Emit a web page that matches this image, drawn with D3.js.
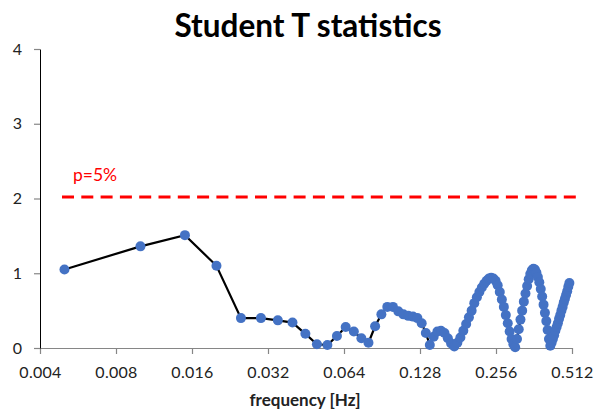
<!DOCTYPE html>
<html>
<head>
<meta charset="utf-8">
<script src="https://cdn.jsdelivr.net/npm/d3@7/dist/d3.min.js"></script>
<style>
  html, body { margin: 0; padding: 0; background: #fff; }
  svg { display: block; }
</style>
</head>
<body>
<svg id="chart" width="595" height="411"></svg>
<script>
// ---- data ----
const frequency = [
  0.005, 0.010, 0.015, 0.020, 0.025, 0.030, 0.035, 0.040, 0.045, 0.050,
  0.055, 0.060, 0.065, 0.070, 0.075, 0.080, 0.085, 0.090, 0.095, 0.100,
  0.105, 0.110, 0.115, 0.120, 0.125, 0.130, 0.135, 0.140, 0.145, 0.150,
  0.155, 0.160, 0.165, 0.170, 0.175, 0.180, 0.185, 0.190, 0.195, 0.200,
  0.205, 0.210, 0.215, 0.220, 0.225, 0.230, 0.235, 0.240, 0.245, 0.250,
  0.255, 0.260, 0.265, 0.270, 0.275, 0.280, 0.285, 0.290, 0.295, 0.300,
  0.305, 0.310, 0.315, 0.320, 0.325, 0.330, 0.335, 0.340, 0.345, 0.350,
  0.355, 0.360, 0.365, 0.370, 0.375, 0.380, 0.385, 0.390, 0.395, 0.400,
  0.405, 0.410, 0.415, 0.420, 0.425, 0.430, 0.435, 0.440, 0.445, 0.450,
  0.455, 0.460, 0.465, 0.470, 0.475, 0.480, 0.485, 0.490, 0.495, 0.500
];
const tStat = [
  1.05, 1.36, 1.51, 1.10, 0.40, 0.40, 0.37, 0.34, 0.19, 0.05,
  0.04, 0.16, 0.28, 0.22, 0.13, 0.07, 0.29, 0.45, 0.55, 0.55,
  0.49, 0.45, 0.43, 0.42, 0.40, 0.33, 0.20, 0.04, 0.15, 0.22,
  0.23, 0.20, 0.13, 0.06, 0.02, 0.07, 0.14, 0.23, 0.32, 0.41,
  0.50, 0.60, 0.68, 0.75, 0.81, 0.86, 0.90, 0.93, 0.94, 0.93,
  0.90, 0.84, 0.75, 0.65, 0.55, 0.44, 0.33, 0.22, 0.12, 0.05,
  0.01, 0.12, 0.25, 0.38, 0.50, 0.62, 0.73, 0.83, 0.92, 0.99,
  1.04, 1.06, 1.05, 1.01, 0.95, 0.88, 0.79, 0.69, 0.58, 0.47,
  0.36, 0.24, 0.12, 0.03, 0.07, 0.12, 0.17, 0.23, 0.28, 0.33,
  0.39, 0.44, 0.50, 0.55, 0.61, 0.66, 0.71, 0.76, 0.82, 0.87
];
const xTicks = [0.004, 0.008, 0.016, 0.032, 0.064, 0.128, 0.256, 0.512];
const xTickLabels = ["0.004", "0.008", "0.016", "0.032", "0.064", "0.128", "0.256", "0.512"];
const yTicks = [0, 1, 2, 3, 4];
const threshold = 2.02;
const thresholdLabel = "p=5%";
const titleText = "Student T statistics";
const xTitle = "frequency [Hz]";

// ---- layout ----
const svg = d3.select("#chart");
const mLeft = 40, mRight = 572, mTop = 49, mBottom = 348;

const x = d3.scaleLog().base(2).domain([0.004, 0.512]).range([mLeft, mRight]);
const y = d3.scaleLinear().domain([0, 4]).range([mBottom, mTop]);

const font = "Lato, 'Open Sans', 'DejaVu Sans', sans-serif";

// title
svg.append("text")
  .attr("x", 308).attr("y", 37)
  .attr("text-anchor", "middle")
  .attr("font-family", font)
  .attr("font-weight", "bold")
  .attr("font-size", 31.5)
  .attr("fill", "#000")
  .text(titleText);

// x axis
const xAxis = d3.axisBottom(x)
  .tickValues(xTicks)
  .tickFormat((d, i) => xTickLabels[i])
  .tickSize(6)
  .tickSizeOuter(0)
  .tickPadding(13);
const gx = svg.append("g").attr("transform", `translate(0,${mBottom})`).call(xAxis);
gx.select(".domain").attr("stroke", "#868686").attr("stroke-width", 1.2);
gx.selectAll(".tick line").attr("stroke", "#868686").attr("stroke-width", 1.2);
gx.selectAll(".tick text")
  .attr("font-family", font).attr("font-size", 16)
  .attr("letter-spacing", 0.3).attr("fill", "#222");

// y axis
const yAxis = d3.axisLeft(y)
  .tickValues(yTicks)
  .tickFormat(d3.format("d"))
  .tickSize(6)
  .tickSizeOuter(0)
  .tickPadding(12);
const gy = svg.append("g").attr("transform", `translate(${mLeft},0)`).call(yAxis);
gy.select(".domain").attr("stroke", "#000").attr("stroke-width", 1);
gy.selectAll(".tick line").attr("stroke", "#868686").attr("stroke-width", 1.2);
gy.selectAll(".tick text")
  .attr("font-family", font).attr("font-size", 16).attr("fill", "#222");

// x axis title
svg.append("text")
  .attr("x", 305).attr("y", 406)
  .attr("text-anchor", "middle")
  .attr("font-family", font)
  .attr("font-weight", "bold")
  .attr("font-size", 17)
  .attr("fill", "#222")
  .text(xTitle);

// threshold line
svg.append("line")
  .attr("x1", 62).attr("x2", 576)
  .attr("y1", y(threshold)).attr("y2", y(threshold))
  .attr("stroke", "#ff0000")
  .attr("stroke-width", 3)
  .attr("stroke-dasharray", "12,7.3");

svg.append("text")
  .attr("x", 73).attr("y", 181)
  .attr("font-family", font)
  .attr("font-size", 17.5)
  .attr("fill", "#ff0000")
  .text(thresholdLabel);

// series
const pts = frequency.map((f, i) => ({ f, t: tStat[i] }));
const line = d3.line().x(d => x(d.f)).y(d => y(d.t));
svg.append("path")
  .datum(pts)
  .attr("d", line)
  .attr("fill", "none")
  .attr("stroke", "#000")
  .attr("stroke-width", 2.2);

svg.append("g").selectAll("circle")
  .data(pts)
  .enter().append("circle")
  .attr("cx", d => x(d.f))
  .attr("cy", d => y(d.t))
  .attr("r", 5)
  .attr("fill", "#4472C4");
</script>
</body>
</html>
